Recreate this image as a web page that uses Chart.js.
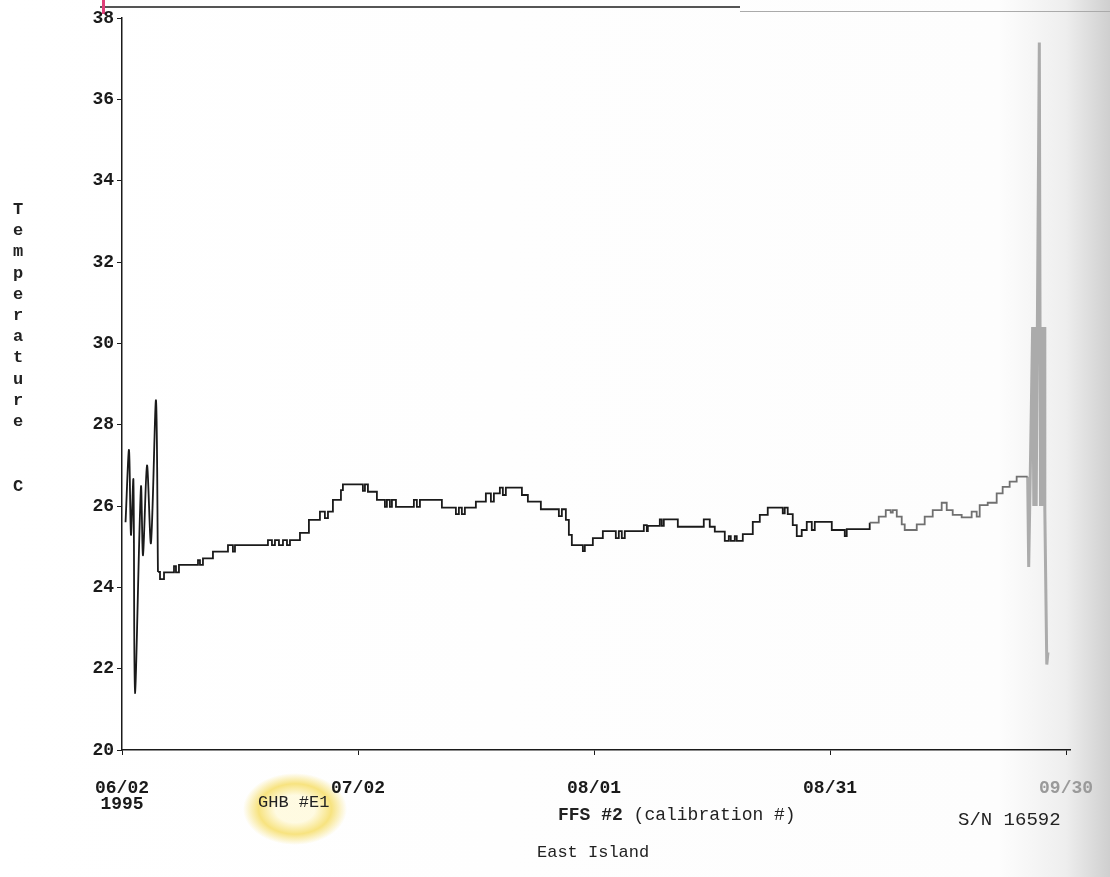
<!DOCTYPE html>
<html>
<head>
<meta charset="utf-8">
<script src="https://cdn.jsdelivr.net/npm/chart.js@4"></script>
<style>
    html, body {
        margin: 0;
        padding: 0;
        width: 1110px;
        height: 877px;
        overflow: hidden;
        background: linear-gradient(to right, #ffffff 0%, #fdfdfd 90%, #eeeeee 96%, #cfcfcf 100%);
        font-family: "Liberation Mono", monospace;
        color: #222;
    }
    .abs { position: absolute; white-space: pre; }
    #chart-wrap { position: absolute; left: 0; top: 0; width: 1110px; height: 877px; z-index: 2; }
    .ring {
        left: 243px; top: 773px; width: 104px; height: 72px; border-radius: 50%;
        background: radial-gradient(ellipse closest-side, rgba(255,246,196,0.5) 38%, rgba(246,222,105,0.85) 70%, rgba(250,235,150,0) 100%);
        z-index: 1;
    }
    .ytitle { left: 8px; top: 199px; width: 20px; text-align: center; font-weight: bold; font-size: 17px; line-height: 21.2px; z-index: 3; }
    .note { font-size: 17px; line-height: 18px; z-index: 3; }
</style>
</head>
<body>
<div class="abs" style="left:100px;top:6px;width:640px;height:2px;background:#555;"></div>
<div class="abs" style="left:740px;top:11px;width:370px;height:1px;background:#aaa;"></div>
<div class="abs" style="left:102px;top:0;width:3px;height:14px;background:#e0407a;"></div>
<div class="abs ring"></div>

<div class="abs ytitle">T<br>e<br>m<br>p<br>e<br>r<br>a<br>t<br>u<br>r<br>e</div>
<div class="abs ytitle" style="top:476px;">C</div>

<div class="abs note" style="left:258px;top:794px;">GHB #E1</div>
<div class="abs note" style="left:558px;top:806px;font-size:18px;"><b>FFS #2</b> (calibration #)</div>
<div class="abs note" style="left:958px;top:811px;font-size:19px;">S/N 16592</div>
<div class="abs note" style="left:537px;top:844px;">East Island</div>

<div id="chart-wrap"><canvas id="tempChart"></canvas></div>

<script>
// ================= DATA =================
// x = days since 06/02/1995, y = temperature (C)

// start-up oscillation right after deployment
const spinDays  = [0.45, 0.89, 1.14, 1.45, 1.65, 2.41, 2.67, 3.18, 3.68, 4.32, 4.57];
const spinTemps = [25.6, 27.38, 25.29, 26.64, 21.4, 26.47, 24.79, 27.0, 25.09, 28.6, 24.38];

// stepped logger record (each value holds until the next day)
const stepDays = [
    4.57, 4.83, 5.34, 6.61, 6.86, 7.24, 9.66, 9.91, 10.29, 11.56,
    13.47, 14.10, 14.36, 18.55, 19.06, 19.44, 19.95, 20.46, 20.97, 21.35,
    22.62, 23.76, 25.16, 25.79, 26.18, 26.81, 27.83, 28.08, 30.62, 30.88,
    31.26, 32.40, 33.42, 33.67, 34.05, 34.31, 34.82, 37.10, 37.48, 37.87,
    40.66, 42.44, 42.82, 43.20, 43.58, 44.98, 46.25, 46.89, 47.27, 48.03,
    48.41, 48.79, 50.83, 51.59, 53.24, 55.53, 55.91, 56.42, 56.80, 57.18,
    58.58, 58.83, 59.85, 61.12, 62.77, 63.15, 63.53, 63.91, 66.33, 66.71,
    66.84, 68.36, 68.61, 68.87, 70.65, 73.95, 74.71, 75.35, 76.62, 77.13,
    77.38, 77.89, 78.14, 78.91, 80.18, 81.07, 82.08, 83.99, 84.24, 84.62,
    85.26, 85.77, 86.40, 87.04, 87.68, 88.06, 90.22, 91.87, 92.12, 95.04,
    96.19, 97.08, 97.71, 97.97, 98.48, 99.11, 99.49, 101.02, 102.03, 103.05,
    104.19, 104.83, 105.59, 106.73, 108.00, 108.64, 109.02, 110.04, 111.18, 111.94,
    112.83, 113.72, 115.12
];
const stepTemps = [
    24.38, 24.20, 24.37, 24.52, 24.37, 24.55, 24.67, 24.55, 24.71, 24.88,
    25.04, 24.88, 25.04, 25.16, 25.04, 25.16, 25.04, 25.16, 25.04, 25.16,
    25.34, 25.66, 25.86, 25.70, 25.86, 26.15, 26.39, 26.53, 26.37, 26.53,
    26.35, 26.15, 25.98, 26.15, 25.98, 26.15, 25.98, 26.15, 25.98, 26.15,
    25.96, 25.80, 25.96, 25.80, 25.96, 26.11, 26.31, 26.11, 26.31, 26.45,
    26.27, 26.45, 26.27, 26.11, 25.92, 25.75, 25.92, 25.66, 25.29, 25.04,
    24.89, 25.04, 25.21, 25.38, 25.21, 25.38, 25.21, 25.38, 25.53, 25.38,
    25.51, 25.67, 25.51, 25.67, 25.49, 25.67, 25.49, 25.37, 25.14, 25.26,
    25.14, 25.26, 25.14, 25.31, 25.61, 25.78, 25.96, 25.82, 25.96, 25.80,
    25.53, 25.26, 25.41, 25.61, 25.41, 25.61, 25.41, 25.26, 25.43, 25.59,
    25.74, 25.90, 25.84, 25.90, 25.74, 25.55, 25.41, 25.55, 25.74, 25.90,
    26.08, 25.90, 25.78, 25.72, 25.86, 25.74, 26.02, 26.08, 26.31, 26.47,
    26.60, 26.72, 26.72
];

// retrieval spike at the end (faint on the scan)
const endDays  = [115.12, 115.25, 115.45, 115.75, 115.9, 116.05, 116.2, 116.35, 116.6, 116.75, 116.9, 117.05, 117.2, 117.3, 117.55, 117.7];
const endTemps = [26.72, 24.5, 26.8, 30.4, 26.0, 30.4, 26.0, 30.4, 37.4, 26.0, 30.4, 26.0, 30.4, 25.9, 22.1, 22.4];

// x axis ticks
const tickDays   = [0, 30, 60, 90, 120];
const tickLabels = [['06/02', '1995'], ['07/02'], ['08/01'], ['08/31'], ['09/30']];

// y axis
const yMin = 20;
const yMax = 38;
const yStep = 2;

// ================= HELPERS =================
const toPoints = (xs, ys) => xs.map((x, i) => ({ x, y: ys[i] }));

const FADE_FROM = 94;   // trace gets lighter on the scan from here
const INK = '#1a1a1a';
const FAINT = '#707070';

// ================= RENDER CHART =================
function renderTempChart() {
    if (typeof Chart === 'undefined') {
        console.warn('Chart.js not loaded');
        return;
    }

    const canvas = document.getElementById('tempChart');
    if (!canvas) return;

    const tickFont = { family: '"Liberation Mono", monospace', size: 18, weight: 'bold', lineHeight: 0.9 };

    new Chart(canvas, {
        type: 'line',
        data: {
            datasets: [
                {
                    label: 'spin-up',
                    data: toPoints(spinDays, spinTemps),
                    borderColor: INK,
                    borderWidth: 1.8,
                    tension: 0.3,
                    pointRadius: 0
                },
                {
                    label: 'temperature',
                    data: toPoints(stepDays, stepTemps),
                    borderColor: INK,
                    borderWidth: 1.8,
                    stepped: true,
                    pointRadius: 0,
                    segment: {
                        borderColor: ctx => ctx.p0.parsed.x >= FADE_FROM ? FAINT : INK
                    }
                },
                {
                    label: 'retrieval',
                    data: toPoints(endDays, endTemps),
                    borderColor: '#ababab',
                    borderWidth: 3,
                    tension: 0,
                    pointRadius: 0
                }
            ]
        },
        options: {
            responsive: true,
            maintainAspectRatio: false,
            animation: false,
            layout: { padding: { top: 18, right: 40, left: 0, bottom: 0 } },
            plugins: {
                legend: { display: false },
                tooltip: { enabled: false }
            },
            scales: {
                x: {
                    type: 'linear',
                    min: 0,
                    max: 120.5,
                    afterFit: scale => {
                        scale.height = 127;
                        // let the last label hang into the margin
                        scale.paddingLeft = 0;
                        scale.paddingRight = 0;
                    },
                    afterBuildTicks: scale => {
                        scale.ticks = tickDays.map(v => ({ value: v }));
                    },
                    border: { color: INK, width: 1.5 },
                    grid: { drawOnChartArea: false, tickLength: 5, color: INK },
                    ticks: {
                        autoSkip: false,
                        maxRotation: 0,
                        padding: 25,
                        font: tickFont,
                        color: ctx => ctx.index === 4 ? '#9a9a9a' : INK,
                        callback: value => {
                            const i = tickDays.indexOf(value);
                            return i >= 0 ? tickLabels[i] : '';
                        }
                    }
                },
                y: {
                    min: yMin,
                    max: yMax,
                    afterFit: scale => { scale.width = 122; },
                    border: { color: INK, width: 1.5 },
                    grid: { drawOnChartArea: false, tickLength: 5, color: INK },
                    ticks: {
                        stepSize: yStep,
                        padding: 3,
                        font: tickFont,
                        color: INK
                    }
                }
            }
        }
    });
}

document.addEventListener('DOMContentLoaded', renderTempChart);
</script>
</body>
</html>
